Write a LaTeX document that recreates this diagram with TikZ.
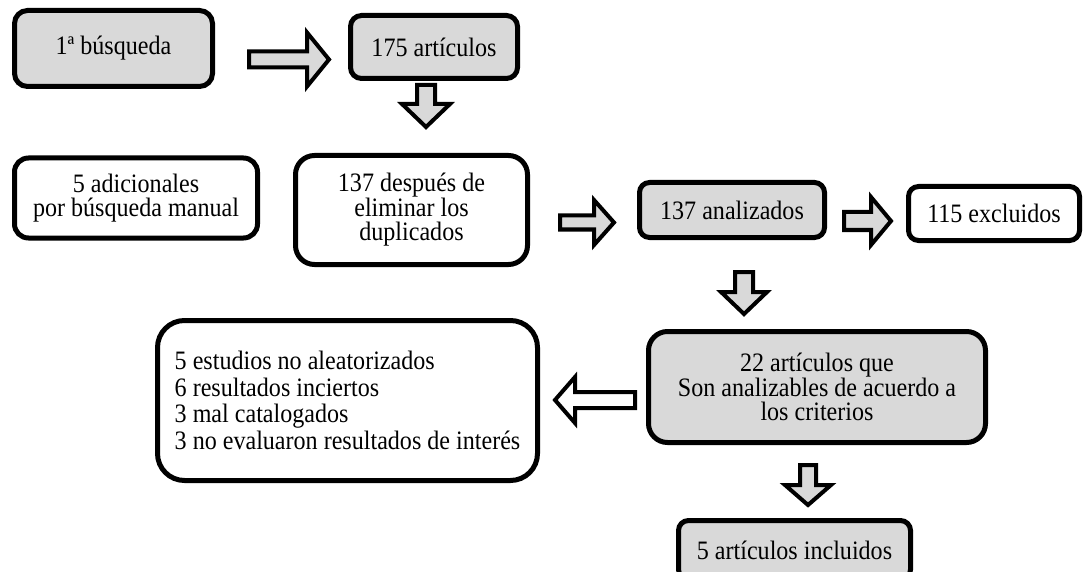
\documentclass[tikz,border=0pt]{standalone}
\usepackage{fontspec}
\setmainfont{Liberation Serif}[FakeStretch=0.905]
\definecolor{boxgray}{HTML}{D9D9D9}
\begin{document}
\begin{tikzpicture}[x=1pt,y=-1pt,
  box/.style={draw=black, line width=5pt, rounded corners=#1, inner sep=0pt,
    font=\fontsize{26.6}{24.5}\selectfont, align=center, fill=white},
  box/.default=12pt,
  gbox/.style={box=#1, fill=boxgray},
  gbox/.default=12pt,
  pics/blk/.style args={#1/#2/#3/#4/#5}{code={
    \draw[line width=4pt, line join=miter, miter limit=10, fill=#5]
      (0,-#3) -- (#1-#2,-#3) -- (#1-#2,-#4) -- (#1,0) -- (#1-#2,#4)
      -- (#1-#2,#3) -- (0,#3) -- cycle;}}
]
\clip (0,0) rectangle (1084,572);

% boxes
\node[gbox=13pt, minimum width=198pt, minimum height=76pt] (b1) at (113.5,48.5) {1ª búsqueda};
\node[gbox=11pt, minimum width=167pt, minimum height=63pt] (b2) at (434,47) {175 artículos};
\node[box=14pt, minimum width=243pt, minimum height=80pt] (b3) at (136,198) {5 adicionales\\por búsqueda manual};
\node[box=19pt, minimum width=232pt, minimum height=109pt] (b4) at (411.5,210) {137 después de\\eliminar los\\duplicados};
\node[gbox=10pt, minimum width=185pt, minimum height=55pt] (b5) at (732,210) {137 analizados};
\node[box=10pt, minimum width=171pt, minimum height=54pt] (b6) at (994,213.5) {115 excluidos};
\node[gbox=19pt, minimum width=337pt, minimum height=111pt] (b7) at (817,387) {22 artículos que\\Son analizables de acuerdo a\\los criterios};
\node[box=27pt, minimum width=380pt, minimum height=160pt, align=left,
  font=\fontsize{26.6}{26.7}\selectfont] (b8) at (347.5,400.5)
  {5 estudios no aleatorizados\\6 resultados inciertos\\3 mal catalogados\\3 no evaluaron resultados de interés};
\node[gbox=10pt, minimum width=232pt, minimum height=59pt] (b9) at (794.5,550) {5 artículos incluidos};

% block arrows
\pic at (249,59.5) {blk=80/22/8/27/boxgray};
\pic[rotate=-90] at (426,85) {blk=42/23/9/24/boxgray};
\pic at (560,222.5) {blk=54/20/7/22.5/boxgray};
\pic at (844,221) {blk=47/20/9/24/boxgray};
\pic[rotate=-90] at (744,272) {blk=42/22/9/23/boxgray};
\pic[rotate=180] at (635,400) {blk=80/20/8/23/white};
\pic[rotate=-90] at (808,465) {blk=40/20/8/23/boxgray};
\end{tikzpicture}
\end{document}
